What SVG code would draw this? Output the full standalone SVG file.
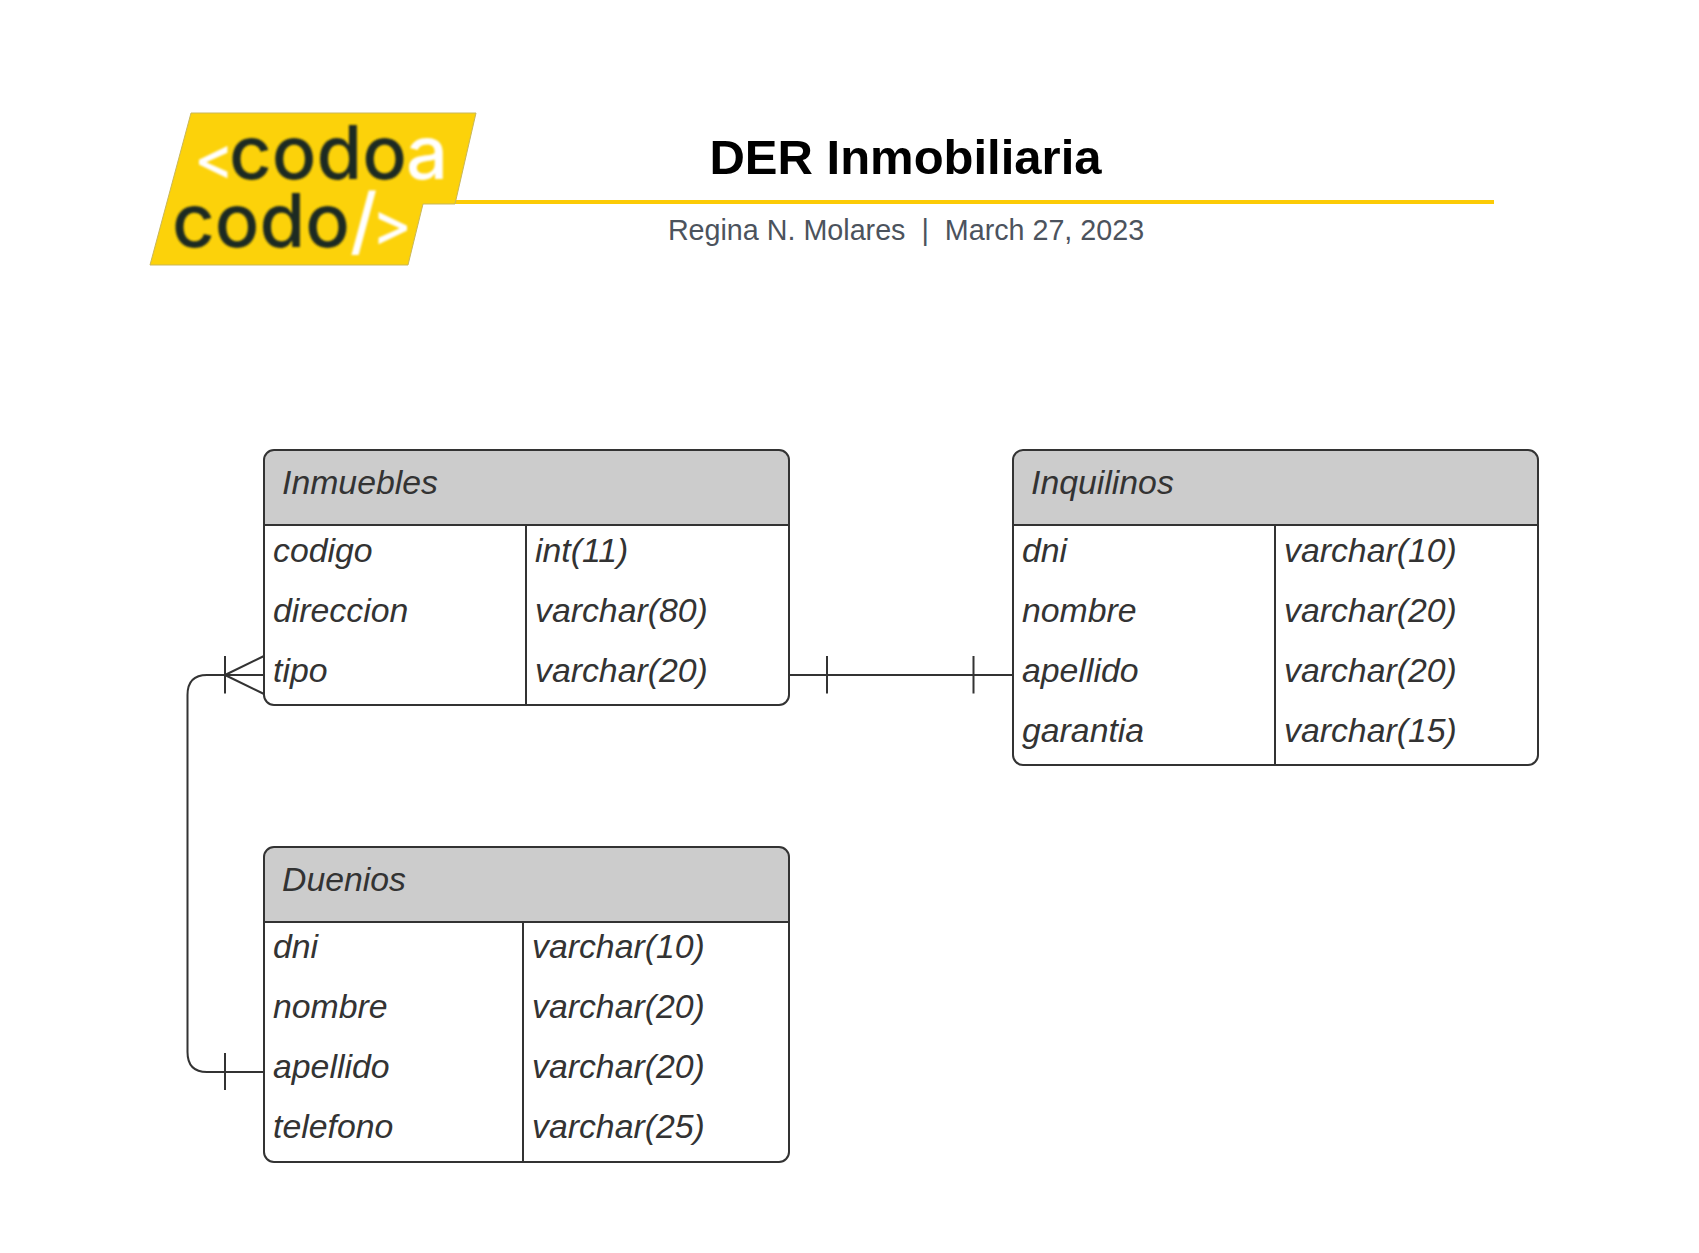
<svg xmlns="http://www.w3.org/2000/svg" width="1699" height="1253" viewBox="0 0 1699 1253">
<style>
.t{font-family:"Liberation Sans",Arial,sans-serif;font-style:italic;font-size:33.8px;fill:#333333}
.hd{fill:#ccc}
.bx{fill:none;stroke:#333;stroke-width:2}
.ln{fill:none;stroke:#333;stroke-width:2}
.lg{font-family:Inter,Lato,sans-serif;font-size:74px;font-weight:500}
.w{fill:#fff}
.k{fill:#1e2a24}
.s{font-size:60px}
</style>
<defs><filter id="b" x="-5%" y="-5%" width="110%" height="110%"><feGaussianBlur stdDeviation="0.9"/></filter></defs>
<rect width="1699" height="1253" fill="#fff"/>
<g id="header">
<line x1="452" y1="202" x2="1494" y2="202" stroke="#fccb06" stroke-width="4"/>
<text x="905.500" y="174" text-anchor="middle" font-family="Liberation Sans,Arial,sans-serif" font-weight="bold" font-size="49" fill="#000">DER Inmobiliaria</text>
<text x="906" y="240" text-anchor="middle" font-family="Liberation Sans,Arial,sans-serif" font-size="28.700" fill="#4c535d" xml:space="preserve">Regina N. Molares  |  March 27, 2023</text>
</g>
<g id="logo">
<path d="M191 113H476L455 204H423L408 265H150Z" fill="#fcd20a" stroke="#c9b75a" stroke-width="1"/>
<g filter="url(#b)" class="lg">
<text y="179"><tspan class="w s" x="194">&lt;</tspan><tspan class="k" x="229">codo</tspan><tspan class="w" x="406">a</tspan></text>
<text y="247"><tspan class="k" x="172">codo</tspan><tspan class="w" x="350">/</tspan><tspan class="w s" x="372" y="245">&gt;</tspan></text>
</g>
</g>
<g id="inmuebles">
<path class="hd" d="M264 525V460a10 10 0 0 1 10-10H779a10 10 0 0 1 10 10V525Z"/>
<rect class="bx" x="264" y="450" width="525" height="255" rx="10"/>
<path class="ln" d="M264 525H789M526 525V705"/>
<text class="t" x="282" y="494">Inmuebles</text>
<text class="t" x="273" y="562">codigo</text><text class="t" x="535" y="562">int(11)</text>
<text class="t" x="273" y="622">direccion</text><text class="t" x="535" y="622">varchar(80)</text>
<text class="t" x="273" y="682">tipo</text><text class="t" x="535" y="682">varchar(20)</text>
</g>
<g id="inquilinos">
<path class="hd" d="M1013 525V460a10 10 0 0 1 10-10H1528a10 10 0 0 1 10 10V525Z"/>
<rect class="bx" x="1013" y="450" width="525" height="315" rx="10"/>
<path class="ln" d="M1013 525H1538M1275 525V765"/>
<text class="t" x="1031" y="494">Inquilinos</text>
<text class="t" x="1022" y="562">dni</text><text class="t" x="1284" y="562">varchar(10)</text>
<text class="t" x="1022" y="622">nombre</text><text class="t" x="1284" y="622">varchar(20)</text>
<text class="t" x="1022" y="682">apellido</text><text class="t" x="1284" y="682">varchar(20)</text>
<text class="t" x="1022" y="742">garantia</text><text class="t" x="1284" y="742">varchar(15)</text>
</g>
<g id="duenios">
<path class="hd" d="M264 922V857a10 10 0 0 1 10-10H779a10 10 0 0 1 10 10V922Z"/>
<rect class="bx" x="264" y="847" width="525" height="315" rx="10"/>
<path class="ln" d="M264 922H789M523 922V1162"/>
<text class="t" x="282" y="891">Duenios</text>
<text class="t" x="273" y="958">dni</text><text class="t" x="532" y="958">varchar(10)</text>
<text class="t" x="273" y="1018">nombre</text><text class="t" x="532" y="1018">varchar(20)</text>
<text class="t" x="273" y="1078">apellido</text><text class="t" x="532" y="1078">varchar(20)</text>
<text class="t" x="273" y="1138">telefono</text><text class="t" x="532" y="1138">varchar(25)</text>
</g>
<g id="connectors">
<path class="ln" d="M264 1072H207Q187.500 1072 187.500 1052V695Q187.500 675 207 675H264"/>
<path class="ln" d="M225 656V693.500M225 675L264 656M225 675L264 694M225 1053V1090"/>
<path class="ln" d="M789 675H1013M827 656V693.500M973.500 656V693.500"/>
</g>
</svg>
